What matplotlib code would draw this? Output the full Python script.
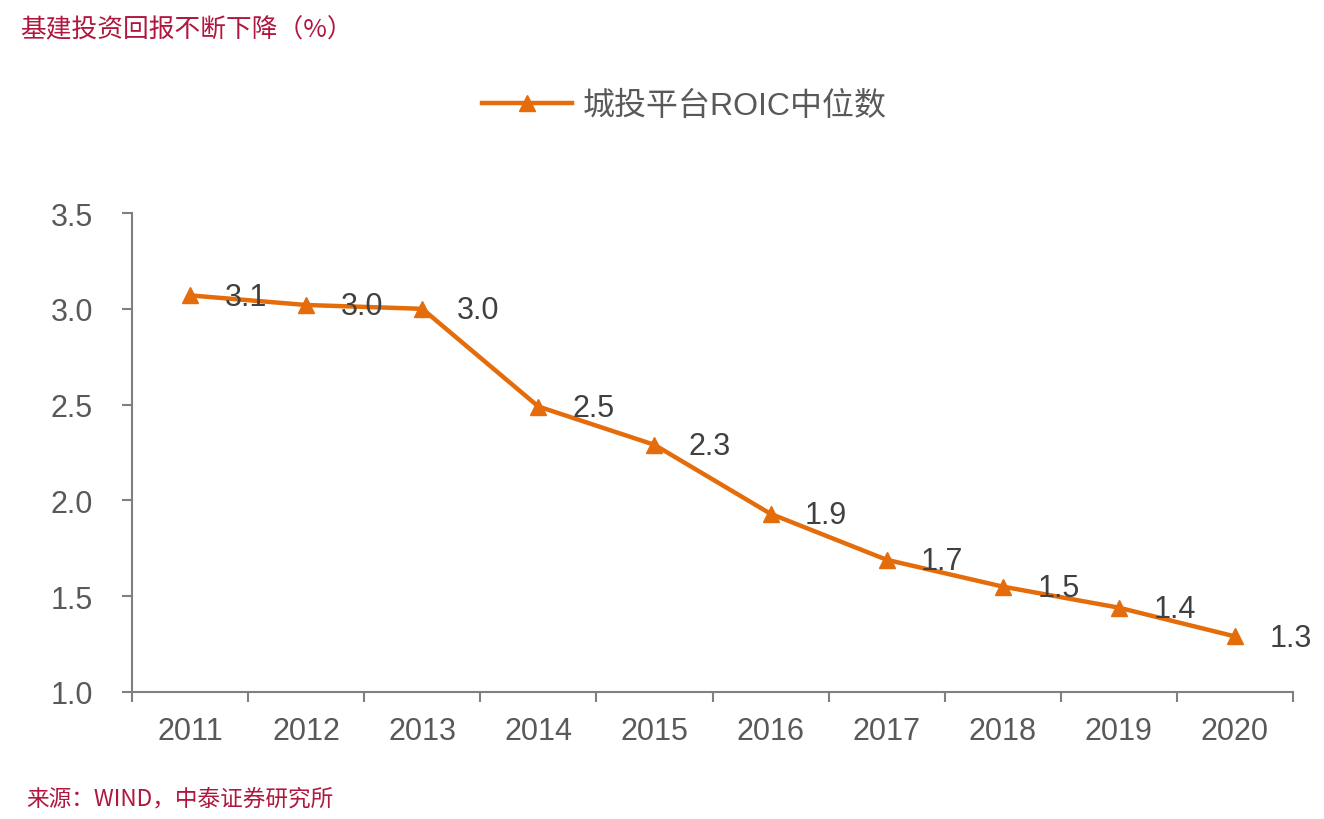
import numpy as np
import matplotlib; matplotlib.use('Agg'); import matplotlib.pyplot as plt
plt.rcParams['font.family']=['Liberation Sans','Noto Sans CJK SC','DejaVu Sans']

years=['2011','2012','2013','2014','2015','2016','2017','2018','2019','2020']
roic=[3.07,3.02,3.00,2.49,2.29,1.93,1.69,1.55,1.44,1.29]
labels=['3.1','3.0','3.0','2.5','2.3','1.9','1.7','1.5','1.4','1.3']
yticks=[1.0,1.5,2.0,2.5,3.0,3.5]

ORG='#E46C0A'; GRY='#595959'; AX='#808080'; RED='#B0173F'
fig=plt.figure(figsize=(13.24,8.2),dpi=100)
ax=fig.add_axes([0.0997,0.1549,0.8769,0.5841])
x=np.arange(len(years))
ln,=ax.plot(x,roic,color=ORG,lw=3.2,marker='^',ms=11,label='城投平台ROIC中位数')
for xi,yi,t in zip(x,roic,labels):
    ax.annotate(t,(xi,yi),xytext=(40,-1),textcoords='offset points',ha='center',va='center',fontsize=22,color='#404040')
ax.set_xlim(-0.5,len(years)-0.5); ax.set_ylim(1.0,3.5)
ax.set_yticks(yticks); ax.set_yticklabels([f'{v:.1f}' for v in yticks],fontsize=22,color=GRY)
ax.set_xticks(np.arange(-0.5,len(years)),labels=['']*(len(years)+1))
ax.set_xticks(x,minor=True); ax.set_xticklabels(years,minor=True,fontsize=22,color=GRY)
ax.tick_params(axis='x',which='major',direction='out',length=7,width=1.5,color=AX)
ax.tick_params(axis='x',which='minor',length=0,pad=17)
ax.tick_params(axis='y',direction='out',length=7,width=1.5,color=AX,pad=21)
for s in ['top','right']: ax.spines[s].set_visible(False)
for s in ['left','bottom']: ax.spines[s].set_color(AX); ax.spines[s].set_linewidth(1.5)
leg=ax.legend(loc='center',bbox_to_anchor=(0.517,0.8695),bbox_transform=fig.transFigure,frameon=False,
              handlelength=2.8,handletextpad=0.35,prop={'family':['Liberation Sans','Noto Sans CJK SC'],'size':23})
for t in leg.get_texts(): t.set_color(GRY)
fig.text(0.015,0.963,'基建投资回报不断下降（%）',fontsize=18.5,color=RED,family=['Noto Sans CJK SC'],va='center')
fig.text(0.02,0.025,'来源：WIND，中泰证券研究所',fontsize=16.3,color=RED,family=['Noto Sans CJK SC'],va='center')
fig.savefig('out.png',dpi=100)
